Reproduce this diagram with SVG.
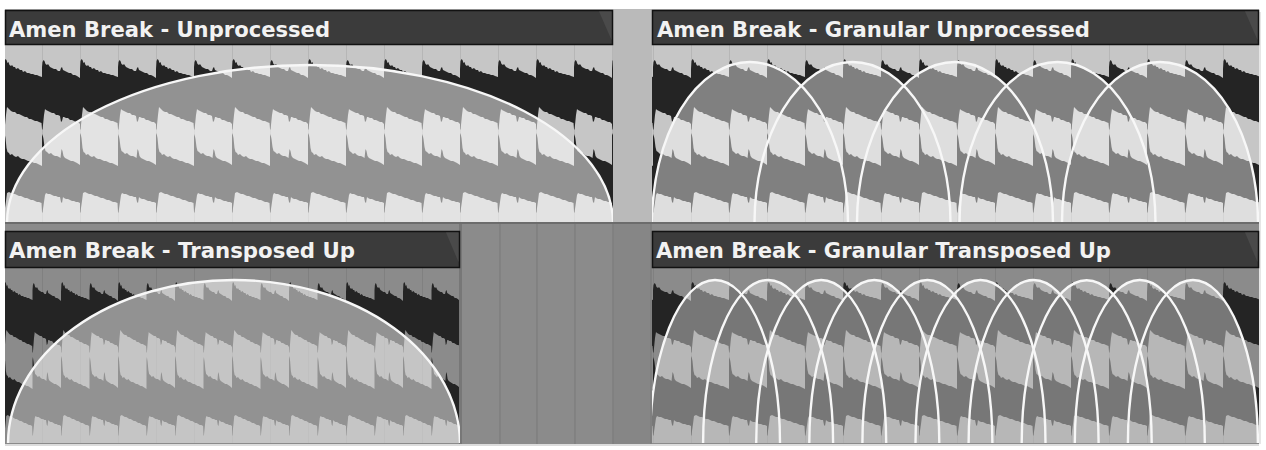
<svg xmlns="http://www.w3.org/2000/svg" width="1266" height="450" viewBox="0 0 1266 450">
<defs>
<style>
.title{font-family:"DejaVu Sans","Liberation Sans",Arial,sans-serif;font-weight:bold;font-size:21px;fill:#f2f2f2}
.bar{fill:#3b3b3b;stroke:#121212;stroke-width:1.5}
.fold{fill:#4a4a4a}
.arc{fill:none;stroke:#f7f7f7;stroke-width:2.4}
.lit{fill:#fff}
.topbg{fill:#c6c6c6}
.botbg{fill:#8b8b8b}
</style>
<path id="beat" fill="#242424" d="M0,24 L0.5,16 L1.5,14 L2.5,15 L3.5,18 L4.5,17 L5.5,20 L7,21 L8,20 L9.5,22 L11,22 L12,24 L14,23 L16,25 L18,25 L19,27 L21,26 L23,28 L25,28 L27,29 L29,29 L31,30 L33,30 L35,31 L38,32 L38,22 L38.5,17 L39.5,15 L40.5,16 L41.5,19 L43,20 L44,19 L46,22 L48,23 L50,24 L52,24 L54,26 L56,26 L57,23 L58,22 L59,25 L61,26 L63,27 L65,28 L67,28 L69,30 L71,30 L73,31 L76,33 L76,79 L74,77 L72,77 L70,76 L68,75 L66,75 L64,73 L62,73 L60,72 L59,72 L58,76 L57,77 L56,71 L54,70 L52,70 L50,68 L48,68 L46,67 L44,66 L42,65 L41,64 L40,70 L39,80 L38.5,85 L38,84 L37.5,78 L35,77 L33,76 L31,76 L29,75 L27,74 L25,74 L23,72 L21,72 L19,71 L17,70 L15,69 L13,69 L11,67 L9,67 L7,66 L5,64 L3,62 L2,70 L1,80 L0.5,85 L0,84 Z M0,90 L0.5,88 L1.5,93 L2.5,103 L3.5,107 L5,108 L6,110 L8,109 L10,111 L12,112 L14,111 L16,113 L18,114 L20,114 L22,115 L24,116 L26,116 L28,117 L30,118 L32,118 L34,119 L36,120 L38,121 L38,92 L38.5,89 L39.5,94 L40.5,102 L41.5,106 L43,107 L45,109 L47,108 L49,110 L51,111 L53,111 L55,112 L56.5,113 L57.5,104 L58.5,106 L59.5,111 L61,113 L63,114 L65,115 L67,116 L69,116 L71,117 L73,118 L76,120 L76,158 L74,157 L72,157 L70,156 L68,156 L66,155 L64,154 L62,154 L60,153 L59,152 L58,158 L57,157 L56,152 L54,152 L52,151 L50,151 L48,150 L46,149 L44,149 L42,148 L41,150 L40,157 L39,164 L38.5,168 L38,167 L37.5,158 L35,157 L33,157 L31,156 L29,155 L27,155 L25,154 L23,153 L21,153 L19,152 L17,151 L15,151 L13,150 L11,149 L9,149 L7,148 L5,147 L3,148 L2,156 L1,163 L0.5,168 L0,167 Z"/>
<pattern id="gL" patternUnits="userSpaceOnUse" x="4" y="0" width="38" height="450"><rect width="1" height="450" fill="#000" fill-opacity="0.08"/></pattern>
<pattern id="gR" patternUnits="userSpaceOnUse" x="7" y="0" width="38" height="450"><rect width="1" height="450" fill="#000" fill-opacity="0.08"/></pattern>
<pattern id="wTL" patternUnits="userSpaceOnUse" x="4" y="45" width="76" height="180"><use href="#beat"/></pattern>
<pattern id="wTR" patternUnits="userSpaceOnUse" x="7" y="45" width="76" height="180"><use href="#beat"/></pattern>
<pattern id="wBR" patternUnits="userSpaceOnUse" x="7" y="268" width="76" height="180"><use href="#beat"/></pattern>
<pattern id="wBL" patternUnits="userSpaceOnUse" x="4" y="268" width="57" height="180"><use href="#beat" transform="scale(0.75 1)"/></pattern>
<clipPath id="cTL"><rect x="5" y="45" width="608" height="177"/></clipPath>
<clipPath id="cTR"><rect x="652" y="45" width="607" height="177"/></clipPath>
<clipPath id="cBL"><rect x="5" y="268" width="455" height="175"/></clipPath>
<clipPath id="cBR"><rect x="652" y="268" width="607" height="175"/></clipPath>
</defs>

<rect width="1266" height="450" fill="#ffffff"/>
<rect x="5" y="444" width="1254" height="2" fill="#dcdcdc"/>
<rect x="1259" y="12" width="2" height="432" fill="#e6e6e6"/>
<rect x="5" y="9" width="1254" height="213" fill="#bababa"/>
<rect x="5" y="222" width="1254" height="222" class="botbg"/>
<rect x="5" y="222" width="1254" height="2" fill="#6c6c6c"/>

<g id="middle-column">
<rect x="613" y="224" width="39" height="220" fill="#868686"/>
<rect x="459" y="224" width="3" height="220" fill="#777777"/>
<g stroke="#7c7c7c" stroke-width="1.2">
<line x1="500" y1="224" x2="500" y2="444"/>
<line x1="537" y1="224" x2="537" y2="444"/>
<line x1="575" y1="224" x2="575" y2="444"/>
<line x1="613" y1="224" x2="613" y2="444"/>
<line x1="651" y1="224" x2="651" y2="444"/>
</g>
</g>

<g id="panel-unprocessed">
<rect x="5" y="45" width="608" height="177" class="topbg"/>
<rect x="5" y="45" width="608" height="177" fill="url(#gL)"/>
<rect x="5" y="45" width="608" height="177" fill="url(#wTL)"/>
<g clip-path="url(#cTL)">
<path class="lit" opacity="0.5" d="M7,222 A303,157 0 0 1 613,222 Z"/>
<path class="arc" stroke-width="2.8" d="M7,223 A303,158 0 0 1 613,223"/>
</g>
<rect x="5.5" y="10.5" width="607" height="34" class="bar"/>
<path class="fold" d="M599,11.5 L611.5,11.5 L611.5,40 Z"/>
<text class="title" x="9" y="36.5" textLength="321" lengthAdjust="spacingAndGlyphs">Amen Break - Unprocessed</text>
</g>

<g id="panel-granular-unprocessed">
<rect x="652" y="45" width="607" height="177" class="topbg"/>
<rect x="652" y="45" width="607" height="177" fill="url(#gR)"/>
<rect x="652" y="45" width="607" height="177" fill="url(#wTR)"/>
<g clip-path="url(#cTR)">
<g opacity="0.42" class="lit">
<path d="M652,223 A98,161 0 0 1 848,223 Z"/>
<path d="M754.5,223 A98,161 0 0 1 950.5,223 Z"/>
<path d="M857,223 A98,161 0 0 1 1053,223 Z"/>
<path d="M959.5,223 A98,161 0 0 1 1155.5,223 Z"/>
<path d="M1062,223 A98,161 0 0 1 1258,223 Z"/>
</g>
<g class="arc" stroke-width="2.2">
<path d="M652,223 A98,161 0 0 1 848,223"/>
<path d="M754.5,223 A98,161 0 0 1 950.5,223"/>
<path d="M857,223 A98,161 0 0 1 1053,223"/>
<path d="M959.5,223 A98,161 0 0 1 1155.5,223"/>
<path d="M1062,223 A98,161 0 0 1 1258,223"/>
</g>
</g>
<rect x="652.5" y="10.5" width="606" height="34" class="bar"/>
<path class="fold" d="M1245,11.5 L1257.5,11.5 L1257.5,40 Z"/>
<text class="title" x="657" y="36.5" textLength="433" lengthAdjust="spacingAndGlyphs">Amen Break - Granular Unprocessed</text>
</g>

<g id="panel-transposed">
<rect x="5" y="268" width="454" height="175" class="botbg"/>
<rect x="5" y="268" width="454" height="175" fill="url(#gL)"/>
<rect x="5" y="268" width="454" height="175" fill="url(#wBL)"/>
<g clip-path="url(#cBL)">
<path class="lit" opacity="0.5" d="M8,444 A226,164 0 0 1 460,444 Z"/>
<path class="arc" stroke-width="2.8" d="M8,444 A226,164 0 0 1 460,444"/>
</g>
<rect x="5.5" y="231.5" width="454" height="36" class="bar"/>
<path class="fold" d="M446,232.5 L458.5,232.5 L458.5,262 Z"/>
<text class="title" x="9" y="257.5" textLength="346" lengthAdjust="spacingAndGlyphs">Amen Break - Transposed Up</text>
</g>

<g id="panel-granular-transposed">
<rect x="652" y="268" width="607" height="175" class="botbg"/>
<rect x="652" y="268" width="607" height="175" fill="url(#gR)"/>
<rect x="652" y="268" width="607" height="175" fill="url(#wBR)"/>
<g clip-path="url(#cBR)">
<g opacity="0.38" class="lit">
<path d="M650,444 A65,164 0 0 1 780,444 Z"/>
<path d="M703.1,444 A65,164 0 0 1 833.1,444 Z"/>
<path d="M756.2,444 A65,164 0 0 1 886.2,444 Z"/>
<path d="M809.3,444 A65,164 0 0 1 939.3,444 Z"/>
<path d="M862.4,444 A65,164 0 0 1 992.4,444 Z"/>
<path d="M915.5,444 A65,164 0 0 1 1045.5,444 Z"/>
<path d="M968.6,444 A65,164 0 0 1 1098.6,444 Z"/>
<path d="M1021.7,444 A65,164 0 0 1 1151.7,444 Z"/>
<path d="M1074.8,444 A65,164 0 0 1 1204.8,444 Z"/>
<path d="M1127.9,444 A65,164 0 0 1 1257.9,444 Z"/>
</g>
<g class="arc" stroke-width="2.2">
<path d="M650,444 A65,164 0 0 1 780,444"/>
<path d="M703.1,444 A65,164 0 0 1 833.1,444"/>
<path d="M756.2,444 A65,164 0 0 1 886.2,444"/>
<path d="M809.3,444 A65,164 0 0 1 939.3,444"/>
<path d="M862.4,444 A65,164 0 0 1 992.4,444"/>
<path d="M915.5,444 A65,164 0 0 1 1045.5,444"/>
<path d="M968.6,444 A65,164 0 0 1 1098.6,444"/>
<path d="M1021.7,444 A65,164 0 0 1 1151.7,444"/>
<path d="M1074.8,444 A65,164 0 0 1 1204.8,444"/>
<path d="M1127.9,444 A65,164 0 0 1 1257.9,444"/>
</g>
</g>
<rect x="652.5" y="231.5" width="606" height="36" class="bar"/>
<path class="fold" d="M1245,232.5 L1257.5,232.5 L1257.5,262 Z"/>
<text class="title" x="656" y="257.5" textLength="455" lengthAdjust="spacingAndGlyphs">Amen Break - Granular Transposed Up</text>
</g>
</svg>
